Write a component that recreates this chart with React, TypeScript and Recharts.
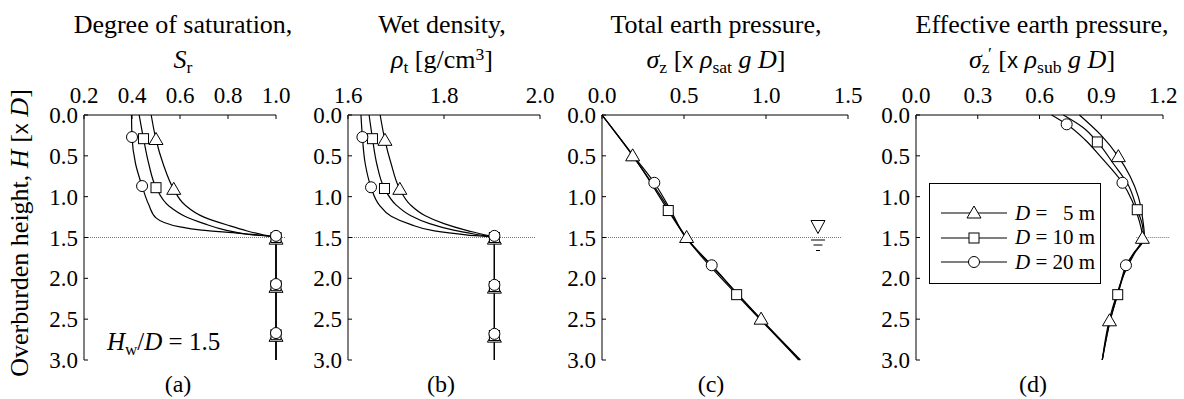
import React from "react"
import { ScatterChart, Scatter, XAxis, YAxis, ReferenceLine, ReferenceDot } from "recharts"

// [value, H] pairs
type Pt = [number, number]

const depthTicks = [0, 0.5, 1.0, 1.5, 2.0, 2.5, 3.0]
const satTicks = [0.2, 0.4, 0.6, 0.8, 1.0]
const densTicks = [1.6, 1.8, 2.0]
const totalTicks = [0, 0.5, 1.0, 1.5]
const effTicks = [0, 0.3, 0.6, 0.9, 1.2]

const waterLevel = 1.5
const diameters = [5, 10, 20]

// (a) degree of saturation
const satCurve5: Pt[] = [[0.48, 0], [0.5, 0.3], [0.53, 0.6], [0.574, 0.91], [0.62, 1.1], [0.7, 1.25], [0.8, 1.35], [0.88, 1.42], [0.95, 1.47], [1.0, 1.5], [1.0, 3.0]]
const satCurve10: Pt[] = [[0.43, 0], [0.448, 0.29], [0.47, 0.6], [0.5, 0.885], [0.556, 1.12], [0.62, 1.24], [0.7, 1.33], [0.79, 1.41], [0.88, 1.46], [1.0, 1.5], [1.0, 3.0]]
const satCurve20: Pt[] = [[0.398, 0], [0.4, 0.27], [0.415, 0.6], [0.442, 0.87], [0.47, 1.1], [0.5, 1.26], [0.6, 1.37], [0.69, 1.41], [0.85, 1.45], [1.0, 1.5], [1.0, 3.0]]
const satMarks5: Pt[] = [[0.5, 0.3], [0.574, 0.91], [1.0, 1.52], [1.0, 2.11], [1.0, 2.71]]
const satMarks10: Pt[] = [[0.448, 0.29], [0.5, 0.89], [1.0, 1.5], [1.0, 2.09], [1.0, 2.69]]
const satMarks20: Pt[] = [[0.4, 0.27], [0.442, 0.87], [1.0, 1.48], [1.0, 2.07], [1.0, 2.67]]

// (b) wet density
const densCurve5: Pt[] = [[1.667, 0], [1.677, 0.31], [1.69, 0.6], [1.708, 0.91], [1.73, 1.1], [1.76, 1.23], [1.8, 1.33], [1.845, 1.41], [1.88, 1.46], [1.905, 1.5], [1.905, 3.0]]
const densCurve10: Pt[] = [[1.644, 0], [1.651, 0.29], [1.66, 0.6], [1.676, 0.9], [1.7, 1.1], [1.73, 1.23], [1.77, 1.33], [1.82, 1.41], [1.865, 1.46], [1.905, 1.5], [1.905, 3.0]]
const densCurve20: Pt[] = [[1.627, 0], [1.63, 0.27], [1.636, 0.6], [1.648, 0.885], [1.665, 1.1], [1.69, 1.24], [1.73, 1.34], [1.78, 1.42], [1.85, 1.47], [1.905, 1.5], [1.905, 3.0]]
const densMarks5: Pt[] = [[1.677, 0.31], [1.708, 0.91], [1.905, 1.52], [1.905, 2.12], [1.905, 2.72]]
const densMarks10: Pt[] = [[1.651, 0.29], [1.676, 0.9], [1.905, 1.5], [1.905, 2.1], [1.905, 2.7]]
const densMarks20: Pt[] = [[1.63, 0.27], [1.648, 0.885], [1.905, 1.48], [1.905, 2.08], [1.905, 2.68]]

// (c) total earth pressure
const totalCurve5: Pt[] = [[0, 0], [0.187, 0.5], [0.36, 1.0], [0.516, 1.5], [0.74, 2.0], [0.97, 2.5], [1.21, 3.0]]
const totalCurve10: Pt[] = [[0, 0], [0.19, 0.5], [0.404, 1.17], [0.512, 1.5], [0.821, 2.2], [1.205, 3.0]]
const totalCurve20: Pt[] = [[0, 0], [0.192, 0.5], [0.319, 0.83], [0.42, 1.17], [0.51, 1.5], [0.669, 1.84], [0.83, 2.2], [1.2, 3.0]]
const totalMarks5: Pt[] = [[0.187, 0.5], [0.516, 1.5], [0.97, 2.5]]
const totalMarks10: Pt[] = [[0.404, 1.17], [0.821, 2.2]]
const totalMarks20: Pt[] = [[0.319, 0.83], [0.669, 1.84]]

// (d) effective earth pressure
const effCurve5: Pt[] = [[0.794, 0], [0.9, 0.25], [0.983, 0.51], [1.04, 0.75], [1.08, 1.0], [1.1, 1.25], [1.11, 1.5], [1.06, 1.7], [1.01, 1.95], [0.975, 2.2], [0.94, 2.5], [0.92, 2.75], [0.905, 3.0]]
const effCurve10: Pt[] = [[0.716, 0], [0.81, 0.15], [0.881, 0.33], [0.96, 0.6], [1.03, 0.85], [1.075, 1.16], [1.1, 1.35], [1.105, 1.5], [1.05, 1.72], [1.01, 1.95], [0.98, 2.2], [0.945, 2.5], [0.905, 3.0]]
const effCurve20: Pt[] = [[0.659, 0], [0.732, 0.114], [0.82, 0.3], [0.9, 0.52], [1.003, 0.83], [1.05, 1.05], [1.085, 1.3], [1.1, 1.5], [1.02, 1.84], [0.99, 2.1], [0.95, 2.45], [0.905, 3.0]]
const effMarks5: Pt[] = [[0.983, 0.51], [1.1, 1.51], [0.94, 2.52]]
const effMarks10: Pt[] = [[0.881, 0.33], [1.075, 1.16], [0.98, 2.2]]
const effMarks20: Pt[] = [[0.732, 0.114], [1.003, 0.83], [1.02, 1.84]]

const FONT = "Liberation Serif, DejaVu Serif, Times New Roman, serif"
const TICK_FS = 23
const TITLE_FS = 26
const kinds = ["tri", "sq", "circ"]

const toXY = (pts: Pt[]) => pts.map(([x, y]) => ({ x, y }))

function Marker({ kind, cx, cy }: { kind: string; cx: number; cy: number }) {
  if (kind === "tri") {
    return <polygon points={`${cx},${cy - 7} ${cx - 7},${cy + 5} ${cx + 7},${cy + 5}`} fill="#fff" stroke="#000" strokeWidth={1} />
  }
  if (kind === "sq") {
    return <rect x={cx - 5} y={cy - 5} width={10} height={10} fill="#fff" stroke="#000" strokeWidth={1} />
  }
  return <circle cx={cx} cy={cy} r={5.5} fill="#fff" stroke="#000" strokeWidth={1} />
}

function WaterSign(props: any) {
  const { cx, cy } = props
  return (
    <g stroke="#000" strokeWidth={1} fill="none">
      <polygon points={`${cx - 7},${cy - 17} ${cx + 7},${cy - 17} ${cx},${cy - 4}`} fill="#fff" />
      <line x1={cx - 7} x2={cx + 7} y1={cy + 2.5} y2={cy + 2.5} />
      <line x1={cx - 4.5} x2={cx + 4.5} y1={cy + 7.5} y2={cy + 7.5} />
      <line x1={cx - 2} x2={cx + 2} y1={cy + 13} y2={cy + 13} />
    </g>
  )
}

type PanelProps = {
  left: number
  right: number
  domain: [number, number]
  ticks: number[]
  curves: Pt[][]
  marks: Pt[][]
  water: [number, number]
  sign?: number
}

function Panel({ left, right, domain, ticks, curves, marks, water, sign }: PanelProps) {
  const tickStyle = { fill: "#000", fontSize: TICK_FS, fontFamily: FONT }
  return (
    <div style={{ position: "absolute", left: 0, top: 0 }}>
      <ScatterChart width={1184} height={399} margin={{ top: 85, bottom: 39, left: left - 50, right: 1184 - right }}>
        <XAxis type="number" dataKey="x" orientation="top" domain={domain} ticks={ticks} interval={0}
          height={30} tickSize={-4} tickMargin={16} stroke="#000" tick={tickStyle}
          tickFormatter={(v: number) => v.toFixed(1)} />
        <YAxis type="number" dataKey="y" domain={[0, 3]} reversed ticks={depthTicks} interval={0}
          width={50} tickSize={-4} tickMargin={10} stroke="#000" tick={tickStyle}
          tickFormatter={(v: number) => v.toFixed(1)} />
        <ReferenceLine segment={[{ x: water[0], y: waterLevel }, { x: water[1], y: waterLevel }]}
          stroke="#777" strokeDasharray="1 1" ifOverflow="visible" />
        {sign !== undefined && (
          <ReferenceDot x={sign} y={waterLevel} r={1} shape={WaterSign} ifOverflow="visible" />
        )}
        {curves.map((c, i) => (
          <Scatter key={"c" + i} data={toXY(c)} line={{ stroke: "#000", strokeWidth: 1.2 }}
            lineJointType="monotoneY" shape={() => <g />} isAnimationActive={false} />
        ))}
        {marks.map((m, i) => (
          <Scatter key={"m" + i} data={toXY(m)} isAnimationActive={false}
            shape={(p: any) => <Marker kind={kinds[i]} cx={p.cx} cy={p.cy} />} />
        ))}
      </ScatterChart>
    </div>
  )
}

const sub = (t: string) => (
  <span style={{ fontSize: "0.68em", position: "relative", top: "0.3em" }}>{t}</span>
)
const sup = (t: string) => (
  <span style={{ fontSize: "0.68em", position: "relative", top: "-0.45em" }}>{t}</span>
)
const it = (t: string) => <span style={{ fontStyle: "italic" }}>{t}</span>
const sans = (t: string) => <span style={{ fontFamily: "Liberation Sans, DejaVu Sans, Arial, sans-serif", fontSize: "0.85em" }}>{t}</span>
// subscript z with a prime stacked above it
const subPrime = (t: string) => (
  <span style={{ display: "inline-block", verticalAlign: "-0.3em", fontSize: "0.68em", lineHeight: "0.8em", textAlign: "left" }}>
    <span style={{ display: "block", paddingLeft: "0.35em" }}>′</span>
    <span style={{ display: "block" }}>{t}</span>
  </span>
)

function Title({ cx, children }: { cx: number; children: React.ReactNode }) {
  return (
    <div style={{ position: "absolute", left: cx - 170, top: 7, width: 340, textAlign: "center",
      fontFamily: FONT, fontSize: TITLE_FS, lineHeight: "35px", color: "#000", whiteSpace: "nowrap" }}>
      {children}
    </div>
  )
}

function Tag({ cx, text }: { cx: number; text: string }) {
  return (
    <div style={{ position: "absolute", left: cx - 30, top: 372, width: 60, textAlign: "center",
      fontFamily: FONT, fontSize: 24, lineHeight: "24px", color: "#000" }}>{text}</div>
  )
}

function LegendBox() {
  return (
    <div style={{ position: "absolute", left: 929, top: 183, width: 170, height: 99, border: "1px solid #000",
      background: "#fff", fontFamily: FONT, fontSize: 21, color: "#000" }}>
      {diameters.map((d, i) => (
        <div key={d} style={{ position: "absolute", left: 0, top: 17 + i * 24.5, height: 24, display: "flex", alignItems: "center" }}>
          <svg width={80} height={24} style={{ display: "block" }}>
            <line x1={11} x2={77} y1={12} y2={12} stroke="#000" strokeWidth={1.2} />
            <Marker kind={kinds[i]} cx={44} cy={12} />
          </svg>
          <span style={{ marginLeft: 5, whiteSpace: "pre" }}>
            {it("D")} = {d < 10 ? "\u2007" : ""}{d} m
          </span>
        </div>
      ))}
    </div>
  )
}

export default function App() {
  return (
    <div style={{ position: "absolute", left: 0, top: 0, width: 1184, height: 399, background: "#fff" }}>
      <Panel left={84} right={276} domain={[0.2, 1.0]} ticks={satTicks}
        curves={[satCurve5, satCurve10, satCurve20]} marks={[satMarks5, satMarks10, satMarks20]} water={[0.2, 1.04]} />
      <Panel left={348} right={540} domain={[1.6, 2.0]} ticks={densTicks}
        curves={[densCurve5, densCurve10, densCurve20]} marks={[densMarks5, densMarks10, densMarks20]} water={[1.6, 1.99]} />
      <Panel left={602} right={848} domain={[0, 1.5]} ticks={totalTicks}
        curves={[totalCurve5, totalCurve10, totalCurve20]} marks={[totalMarks5, totalMarks10, totalMarks20]} water={[0, 1.46]} sign={1.317} />
      <Panel left={916} right={1163} domain={[0, 1.2]} ticks={effTicks}
        curves={[effCurve5, effCurve10, effCurve20]} marks={[effMarks5, effMarks10, effMarks20]} water={[1.07, 1.23]} />

      <Title cx={183}><div>Degree of saturation,</div><div>{it("S")}{sub("r")}</div></Title>
      <Title cx={442}><div>Wet density,</div><div>{it("ρ")}{sub("t")} [g/cm{sup("3")}]</div></Title>
      <Title cx={716}><div>Total earth pressure,</div><div>{it("σ")}{sub("z")} [{sans("x")} {it("ρ")}{sub("sat")} {it("g")} {it("D")}]</div></Title>
      <Title cx={1042}><div>Effective earth pressure,</div><div>{it("σ")}{subPrime("z")} [{sans("x")} {it("ρ")}{sub("sub")} {it("g")} {it("D")}]</div></Title>

      <div style={{ position: "absolute", left: 20, top: 233, transform: "translate(-50%, -50%) rotate(-90deg)",
        fontFamily: FONT, fontSize: TITLE_FS, whiteSpace: "nowrap", color: "#000" }}>
        Overburden height, {it("H")} [{sans("x")} {it("D")}]
      </div>

      <div style={{ position: "absolute", left: 107, top: 328, fontFamily: FONT, fontSize: 25, color: "#000", whiteSpace: "nowrap" }}>
        {it("H")}{sub("w")}/{it("D")} = 1.5
      </div>

      <LegendBox />

      <Tag cx={178} text="(a)" />
      <Tag cx={441} text="(b)" />
      <Tag cx={711} text="(c)" />
      <Tag cx={1033} text="(d)" />
    </div>
  )
}
